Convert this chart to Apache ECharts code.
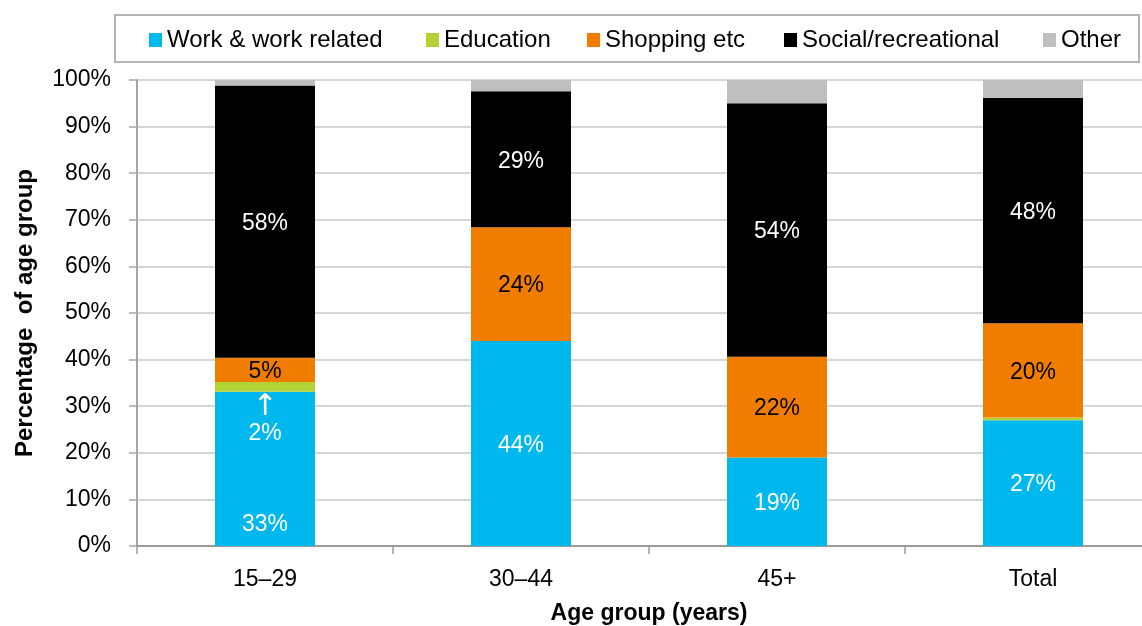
<!DOCTYPE html>
<html>
<head>
<meta charset="utf-8">
<script src="https://cdn.jsdelivr.net/npm/echarts@6/dist/echarts.min.js"></script>
<style>
html,body{margin:0;padding:0;background:#fff;}
#chart{width:1142px;height:626px;}
</style>
</head>
<body>
<div id="chart"></div>
<script>
const categories = ['15–29', '30–44', '45+', 'Total'];
const seriesNames = ['Work & work related', 'Education', 'Shopping etc', 'Social/recreational', 'Other'];
const work = [33.1, 44.0, 19.0, 27.0];
const education = [2.1, 0, 0, 0.6];
const shopping = [5.2, 24.4, 21.6, 20.2];
const social = [58.4, 29.2, 54.4, 48.4];
const other = [1.2, 2.4, 5.0, 3.8];
const yTicks = [0, 10, 20, 30, 40, 50, 60, 70, 80, 90, 100];

const FONT = "'Liberation Sans', Arial, sans-serif";
const colors = ['#00B8EE', '#B3D235', '#F07D00', '#000000', '#BFBFBF'];
const values = [work, education, shopping, social, other];
const labelColors = ['#ffffff', '#ffffff', '#000000', '#ffffff', null];

const chart = echarts.init(document.getElementById('chart'), null, {renderer: 'canvas'});

function buildData(si) {
  return values[si].map((v, i) => {
    const item = {value: v};
    if (si === 0 && i === 0) {
      item.label = {position: 'insideBottom', distance: 10, offset: [0, 0]};
    }
    return item;
  });
}

const series = seriesNames.map((name, si) => {
  const s = {
    name: name,
    type: 'bar',
    stack: 'total',
    barWidth: 100,
    itemStyle: {color: colors[si]},
    data: buildData(si),
    emphasis: {disabled: true},
    label: {show: false}
  };
  if (labelColors[si]) {
    s.label = {
      show: true,
      position: 'inside',
      offset: [0, 2],
      color: labelColors[si],
      fontFamily: FONT,
      fontSize: 23,
      formatter: p => (p.value >= 1.5 ? Math.round(p.value) + '%' : '')
    };
  }
  if (si === 1) {
    s.label = {
      show: true,
      position: 'bottom',
      distance: 2,
      color: '#ffffff',
      fontFamily: FONT,
      fontSize: 23,
      align: 'center',
      formatter: p => (p.value >= 1.5 ? '{arr|↑}\n{pct|' + Math.round(p.value) + '%}' : ''),
      rich: {
        arr: {fontFamily: "'DejaVu Sans', sans-serif", fontSize: 30, lineHeight: 26, color: '#ffffff', align: 'center'},
        pct: {fontFamily: FONT, fontSize: 23, lineHeight: 28, color: '#ffffff', align: 'center'}
      }
    };
  }
  return s;
});

const legendLefts = [149, 426, 587, 784, 1043];
const legends = seriesNames.map((name, i) => ({
  data: [name],
  left: legendLefts[i],
  top: 28,
  padding: 0,
  icon: 'rect',
  itemWidth: 13,
  itemHeight: 14,
  selectedMode: false,
  textStyle: {fontFamily: FONT, fontSize: 24, color: '#000'}
}));

chart.setOption({
  animation: false,
  backgroundColor: '#ffffff',
  textStyle: {fontFamily: FONT},
  graphic: [{
    type: 'rect',
    shape: {x: 115, y: 15, width: 1024, height: 47},
    style: {fill: 'none', stroke: '#B4B4B4', lineWidth: 2},
    z: -1
  }],
  legend: legends,
  grid: {left: 137, right: -19, top: 80, bottom: 80, containLabel: false, outerBoundsMode: 'none'},
  xAxis: {
    type: 'category',
    data: categories,
    boundaryGap: true,
    name: 'Age group (years)',
    nameLocation: 'middle',
    nameGap: 56,
    nameTextStyle: {fontFamily: FONT, fontSize: 23, fontWeight: 'bold', color: '#000'},
    axisLine: {show: true, lineStyle: {color: '#9A9A9A', width: 2}},
    axisTick: {show: true, length: 8, lineStyle: {color: '#9A9A9A', width: 1.5}},
    axisLabel: {fontFamily: FONT, fontSize: 23, color: '#000', margin: 22}
  },
  yAxis: {
    type: 'value',
    min: yTicks[0],
    max: yTicks[yTicks.length - 1],
    interval: yTicks[1] - yTicks[0],
    name: 'Percentage  of age group',
    nameLocation: 'middle',
    nameGap: 100,
    nameTextStyle: {fontFamily: FONT, fontSize: 24, fontWeight: 'bold', color: '#000'},
    axisLine: {show: true, lineStyle: {color: '#A6A6A6', width: 2}},
    axisTick: {show: true, length: 8, lineStyle: {color: '#A6A6A6', width: 1.5}},
    splitLine: {show: true, lineStyle: {color: '#C8C8C8', width: 1.5}},
    axisLabel: {fontFamily: FONT, fontSize: 23, color: '#000', margin: 26, formatter: '{value}%'}
  },
  series: series
});
</script>
</body>
</html>
